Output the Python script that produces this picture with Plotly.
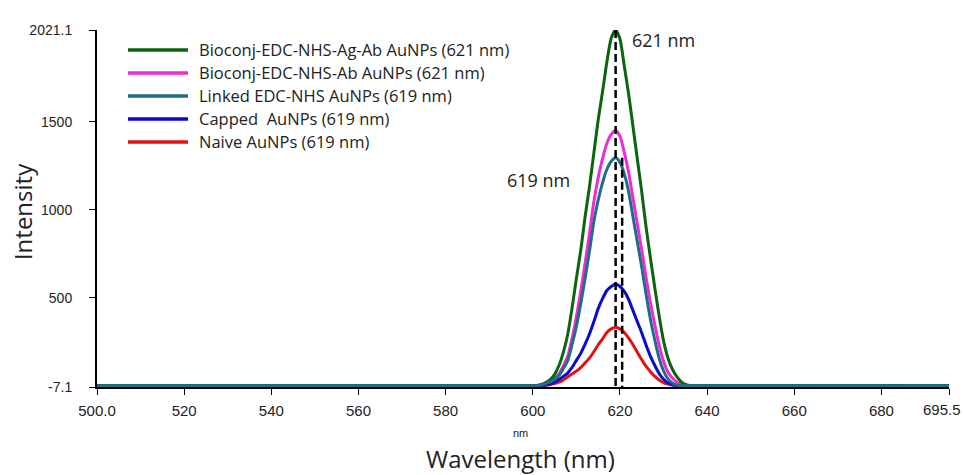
import plotly.graph_objects as go

# Emission spectra of the AuNP preparations: intensity (a.u.) against wavelength (nm)
wl_short = [500.0, 550.0, 599.0]
wl_band = [600, 601, 602, 603, 604, 605, 606, 607, 608, 609, 610, 611, 612, 613,
           614, 615, 616, 617, 618, 619, 620, 621, 622, 623, 624, 625, 626, 627,
           628, 629, 630, 631, 632, 633, 634, 635, 636, 637, 638]
wl_long = [640.0, 660.0, 670.0, 671.0, 673.0, 674.0, 675.0, 676.0, 679.0, 680.0, 690.0, 695.5]

ag_ab_short = [0, 0, 0]
ag_ab_band = [0, 2, 7, 18, 35, 65, 115, 190, 290, 440, 610, 770, 960, 1131, 1321, 1510,
              1670, 1840, 1975, 2021.1, 1970, 1815, 1655, 1470, 1285, 1100, 900, 725,
              555, 395, 255, 158, 95, 53, 24, 8, 2, 0, 0]
ag_ab_long = [0, 0, 0, 0, 0, 0, 0, 0, 0, 0, 0, 0]

ab_short = [-5, -5, -5]
ab_band = [0, 1, 6, 15, 25, 42, 68, 113, 167, 268, 392, 537, 696, 863, 1044, 1182,
           1290, 1378, 1428, 1450, 1418, 1325, 1211, 1064, 918, 771, 613, 471, 345,
           229, 139, 78, 44, 22, 9, 3, 0, 0, -5]
ab_long = [-5, -5, -5, -7.1, -7.1, -5, -5, -5, -5, -5, -5, -5]

linked_short = [0, 0, 0]
linked_band = [0, 1, 5, 13, 22, 36, 58, 97, 142, 233, 337, 466, 609, 764, 932, 1055,
               1153, 1230, 1276, 1295, 1269, 1204, 1101, 958, 816, 673, 518, 376, 259,
               155, 84, 39, 16, 5, 0, 0, 0, 0, 0]
linked_long = [0, 0, 0, 0, 0, 0, 0, 0, 0, 0, 0, 0]

capped_short = [0, 0, 0]
capped_band = [0, 0, 1, 5, 10, 20, 35, 53, 72, 104, 144, 184, 236, 294, 363, 438, 495,
               541, 564, 576, 564, 536, 490, 426, 363, 300, 230, 167, 115, 69, 37, 17,
               7, 2, 0, 0, 0, 0, 0]
capped_long = [0, 0, 0, 0, 0, 0, 0, 0, 0, 0, 0, 0]

naive_short = [0, 0, 0]
naive_band = [0, 0, 1, 3, 7, 12, 20, 33, 50, 67, 83, 103, 130, 157, 193, 233, 266, 303,
              323, 333, 323, 303, 270, 233, 190, 148, 110, 80, 53, 33, 18, 9, 4, 1, 0,
              0, 0, 0, 0]
naive_long = [0, 0, 0, 0, 0, 0, 0, -7, -7, 0, 0, 0]

series_names = ["Bioconj-EDC-NHS-Ag-Ab AuNPs (621 nm)",
                "Bioconj-EDC-NHS-Ab AuNPs (621 nm)",
                "Linked EDC-NHS AuNPs (619 nm)",
                "Capped\u00a0 AuNPs (619 nm)",
                "Naive AuNPs (619 nm)"]
series_colors = ["#0b650f", "#f02ad6", "#1f6e86", "#0a0ad2", "#e3120f"]

# peak markers: dashed guides and their labels
guide_nm = [619.0, 620.5]
guide_top = [2021.1, 1295.0]
guide_floor = -7.1
peak_text = ["621 nm", "619 nm"]
peak_text_x = [629.9, 601.4]
peak_text_y = [1964, 1169]

x_range = [500.0, 695.5]
y_range = [-7.1, 2021.1]
x_ticks = [500.0, 520, 540, 560, 580, 600, 620, 640, 660, 680, 695.5]
x_ticktext = ["500.0", "520", "540", "560", "580", "600", "620", "640", "660", "680", "695.5"]
y_ticks = [-7.1, 500, 1000, 1500, 2021.1]
y_ticktext = ["-7.1", "500", "1000", "1500", "2021.1"]

wavelength = wl_short + wl_band + wl_long
intensity = [
    ag_ab_short + ag_ab_band + ag_ab_long,
    ab_short + ab_band + ab_long,
    linked_short + linked_band + linked_long,
    capped_short + capped_band + capped_long,
    naive_short + naive_band + naive_long,
]

fig = go.Figure()

# drawing order keeps the linked spectrum on top along the baseline
draw_order = [4, 3, 1, 0, 2]
for i in draw_order:
    fig.add_trace(go.Scatter(
        x=wavelength, y=intensity[i], mode="lines", name=series_names[i],
        line=dict(color=series_colors[i], width=3, shape="spline", smoothing=0.6),
        showlegend=False, cliponaxis=False, hoverinfo="skip",
    ))

for gx, gt in zip(guide_nm, guide_top):
    fig.add_trace(go.Scatter(
        x=[gx, gx], y=[gt, guide_floor], mode="lines",
        line=dict(color="black", width=2.5, dash="8px,4px"),
        showlegend=False, cliponaxis=False, hoverinfo="skip",
    ))

annotations = []
shapes = []
for txt, tx, ty in zip(peak_text, peak_text_x, peak_text_y):
    annotations.append(dict(x=tx, y=ty, xref="x", yref="y", text=txt, showarrow=False,
                            font=dict(family="Open Sans", size=18, color="#222222")))

# legend block, drawn in the upper-left corner of the plot area
row_y0, row_step = 0.944, 0.0644
for k, (name, color) in enumerate(zip(series_names, series_colors)):
    yk = row_y0 - k * row_step
    shapes.append(dict(type="line", xref="paper", yref="paper", x0=0.0364, x1=0.1068,
                       y0=yk, y1=yk, line=dict(color=color, width=3.5)))
    annotations.append(dict(x=0.1174, y=yk, xref="paper", yref="paper", text=name,
                            showarrow=False, xanchor="left", yanchor="middle",
                            font=dict(family="Open Sans", size=16.5, color="#222222")))

tick_font = dict(family="Liberation Sans", size=15, color="#222222")

# the last wavelength label sits flush with the right edge of the figure
annotations.append(dict(x=1.0164, y=-0.0635, xref="paper", yref="paper", text=x_ticktext[-1],
                        showarrow=False, xanchor="right", yanchor="middle", font=tick_font))

# axis captions
annotations.append(dict(x=0.4965, y=-0.13, xref="paper", yref="paper", text="nm",
                        showarrow=False, xanchor="center", yanchor="middle",
                        font=dict(family="Liberation Sans", size=11, color="#222222")))
annotations.append(dict(x=0.4965, y=-0.199, xref="paper", yref="paper", text="Wavelength (nm)",
                        showarrow=False, xanchor="center", yanchor="middle",
                        font=dict(family="Open Sans", size=24, color="#222222")))
annotations.append(dict(x=-0.088, y=0.49, xref="paper", yref="paper", text="Intensity",
                        showarrow=False, xanchor="center", yanchor="middle", textangle=-90,
                        font=dict(family="Open Sans", size=24, color="#222222")))

fig.update_layout(
    width=963, height=475,
    margin=dict(l=97, r=14, t=30, b=88, autoexpand=False),
    paper_bgcolor="white", plot_bgcolor="white",
    showlegend=False,
    annotations=annotations, shapes=shapes,
    xaxis=dict(range=x_range, tickvals=x_ticks, ticktext=x_ticktext[:-1] + [""],
               automargin=False,
               showline=True, linecolor="black", linewidth=1.5, mirror=False,
               ticks="outside", ticklen=6, tickwidth=1.3, tickcolor="black",
               showgrid=False, zeroline=False, layer="below traces",
               ticklabelstandoff=3, tickfont=tick_font),
    yaxis=dict(range=y_range, tickvals=y_ticks, ticktext=y_ticktext, automargin=False,
               showline=True, linecolor="black", linewidth=2,
               ticks="outside", ticklen=6, tickwidth=1.3, tickcolor="black",
               showgrid=False, zeroline=False, layer="below traces",
               ticklabelstandoff=14,
               tickfont=dict(family="Liberation Sans", size=14, color="#222222")),
)

fig.write_html("out.html")
